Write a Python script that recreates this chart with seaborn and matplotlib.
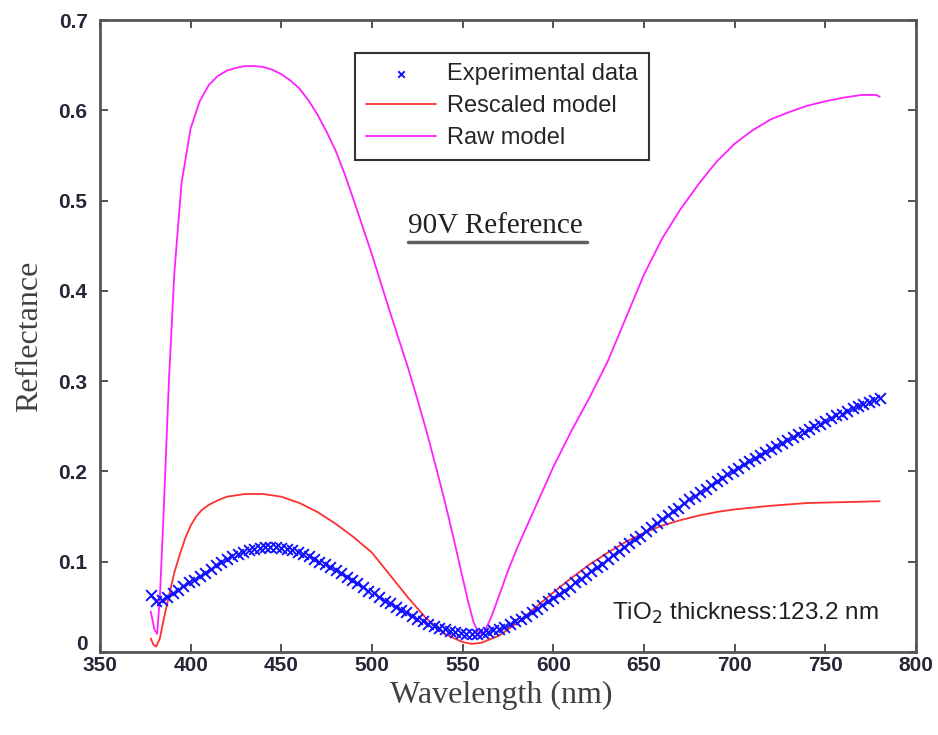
import numpy as np
import pandas as pd
import matplotlib
matplotlib.use("Agg")
import matplotlib.pyplot as plt
import matplotlib.transforms as mtransforms
import seaborn as sns

# ---- data ----
exp_wl = list(range(378, 781, 3))
exp_R = [0.063, 0.057, 0.058, 0.061, 0.065, 0.069, 0.073, 0.077, 0.080, 0.084,
         0.088, 0.092, 0.096, 0.100, 0.103, 0.106, 0.109, 0.111, 0.113, 0.114,
         0.115, 0.116, 0.116, 0.116, 0.115, 0.114, 0.113, 0.111, 0.108, 0.106,
         0.103, 0.100, 0.097, 0.094, 0.091, 0.087, 0.083, 0.080, 0.076, 0.072,
         0.068, 0.065, 0.061, 0.057, 0.054, 0.050, 0.047, 0.044, 0.040, 0.037,
         0.034, 0.031, 0.029, 0.027, 0.025, 0.023, 0.022, 0.021, 0.020, 0.020,
         0.020, 0.021, 0.022, 0.024, 0.026, 0.028, 0.031, 0.034, 0.037, 0.040,
         0.044, 0.048, 0.052, 0.056, 0.060, 0.064, 0.068, 0.072, 0.077, 0.081,
         0.085, 0.090, 0.094, 0.098, 0.103, 0.107, 0.112, 0.116, 0.121, 0.125,
         0.129, 0.134, 0.138, 0.143, 0.147, 0.152, 0.156, 0.160, 0.165, 0.169,
         0.173, 0.177, 0.181, 0.185, 0.189, 0.193, 0.197, 0.200, 0.204, 0.208,
         0.211, 0.215, 0.218, 0.222, 0.225, 0.228, 0.232, 0.235, 0.238, 0.241,
         0.244, 0.247, 0.250, 0.253, 0.256, 0.259, 0.262, 0.264, 0.267, 0.270,
         0.272, 0.275, 0.277, 0.279, 0.281]

resc_wl = [378, 379.5, 381, 383, 385, 388, 391, 394, 397, 400, 403, 406, 410, 415,
           420, 430, 440, 450, 460, 470, 480, 490, 500, 510, 520, 530, 540, 550,
           555, 560, 570, 580, 590, 600, 610, 620, 630, 640, 650, 660, 670, 680,
           690, 700, 720, 740, 760, 780]
resc_R = [0.015, 0.008, 0.006, 0.015, 0.035, 0.062, 0.088, 0.108, 0.126, 0.140,
          0.150, 0.157, 0.163, 0.168, 0.172, 0.175, 0.175, 0.172, 0.165, 0.155,
          0.142, 0.127, 0.110, 0.085, 0.060, 0.037, 0.020, 0.011, 0.009, 0.010,
          0.018, 0.032, 0.049, 0.066, 0.082, 0.097, 0.110, 0.122, 0.132, 0.140,
          0.146, 0.151, 0.155, 0.158, 0.162, 0.165, 0.166, 0.167]

raw_wl = [378, 380, 381.5, 383, 385, 388, 391, 395, 400, 405, 410, 415, 420, 425,
          430, 435, 440, 445, 450, 455, 460, 465, 470, 475, 480, 485, 490, 495,
          500, 505, 510, 515, 520, 525, 530, 535, 540, 545, 550, 553, 556, 559,
          562, 566, 570, 575, 580, 590, 600, 610, 620, 630, 640, 650, 660, 670,
          680, 690, 700, 710, 720, 730, 740, 750, 760, 770, 778, 780]
raw_R = [0.045, 0.025, 0.020, 0.060, 0.150, 0.300, 0.420, 0.520, 0.580, 0.610,
         0.628, 0.638, 0.644, 0.647, 0.649, 0.649, 0.648, 0.645, 0.640, 0.633,
         0.624, 0.611, 0.595, 0.576, 0.555, 0.529, 0.500, 0.470, 0.440, 0.408,
         0.376, 0.345, 0.314, 0.280, 0.245, 0.207, 0.168, 0.126, 0.082, 0.056,
         0.033, 0.020, 0.022, 0.040, 0.062, 0.090, 0.115, 0.160, 0.205, 0.245,
         0.282, 0.322, 0.370, 0.418, 0.458, 0.490, 0.518, 0.543, 0.563, 0.578,
         0.590, 0.598, 0.605, 0.610, 0.614, 0.617, 0.617, 0.615]

x_ticks = [350, 400, 450, 500, 550, 600, 650, 700, 750, 800]
y_ticks = [0, 0.1, 0.2, 0.3, 0.4, 0.5, 0.6, 0.7]
y_tick_labels = ["0", "0.1", "0.2", "0.3", "0.4", "0.5", "0.6", "0.7"]

# ---- plot ----
sns.set_style("ticks")
plt.rcParams['font.family'] = ['Liberation Sans', 'DejaVu Sans']

fig = plt.figure(figsize=(9.38, 7.35), dpi=100)
ax = fig.add_axes([100 / 938, 83 / 735, 816 / 938, 632 / 735])

exp_df = pd.DataFrame({"wl": exp_wl, "R": exp_R})
resc_df = pd.DataFrame({"wl": resc_wl, "R": resc_R})
raw_df = pd.DataFrame({"wl": raw_wl, "R": raw_R})

sns.scatterplot(data=exp_df, x="wl", y="R", ax=ax, marker="x", color="#1010ff",
                s=60, linewidth=1.4, label="Experimental data", zorder=3)
sns.lineplot(data=resc_df, x="wl", y="R", ax=ax, color="#ff3030", linewidth=1.3,
             label="Rescaled model", sort=False, zorder=2)
sns.lineplot(data=raw_df, x="wl", y="R", ax=ax, color="#ff20ff", linewidth=1.3,
             label="Raw model", sort=False, zorder=2)

ax.set_xlim(350, 800)
ax.set_ylim(0, 0.7)
ax.set_xticks(x_ticks)
ax.set_yticks(y_ticks)
ax.set_yticklabels(y_tick_labels)
ax.tick_params(direction="in", length=6, width=1.2, color="#333333",
               top=True, right=True, labelsize=15, labelcolor="#262638")
ax.tick_params(axis="x", pad=3)
ax.tick_params(axis="y", pad=9)
for lab in ax.get_xticklabels() + ax.get_yticklabels():
    lab.set_fontweight("bold")
zero_lab = ax.get_yticklabels()[0]
zero_lab.set_transform(zero_lab.get_transform() +
                       mtransforms.ScaledTranslation(0, 7 / 72, fig.dpi_scale_trans))
for sp in ax.spines.values():
    sp.set_color("#555555")
    sp.set_linewidth(2)

ax.set_xlabel("Wavelength (nm)", family="Liberation Serif", fontsize=23,
              color="#404040")
ax.set_ylabel("Reflectance", family="Liberation Serif", fontsize=23,
              color="#404040")
ax.xaxis.set_label_coords(0.492, -0.045)
ax.yaxis.set_label_coords(-0.068, 0.5)

leg = ax.legend(loc="upper left", bbox_to_anchor=(0.3125, 0.948), fontsize=17,
                frameon=True, fancybox=False, edgecolor="#333333",
                handlelength=3.0, borderpad=0.45, labelspacing=0.42,
                handletextpad=0.45, borderaxespad=0, markerscale=0.6)
leg.get_frame().set_linewidth(1.5)
leg.get_frame().set_facecolor("white")
leg.get_frame().set_alpha(1)

ax.text(0.485, 0.674, "90V Reference", transform=ax.transAxes, ha="center",
        va="center", family="Liberation Serif", fontsize=21, color="#202020")
ax.plot([0.377, 0.597], [0.648, 0.648], transform=ax.transAxes,
        color="#606060", linewidth=2.5)

ax.text(0.627, 0.051, r"TiO$_2$ thickness:123.2 nm", transform=ax.transAxes,
        ha="left", va="baseline", fontsize=17.5, color="#202020")

fig.savefig("out.png", dpi=100, facecolor="white")
